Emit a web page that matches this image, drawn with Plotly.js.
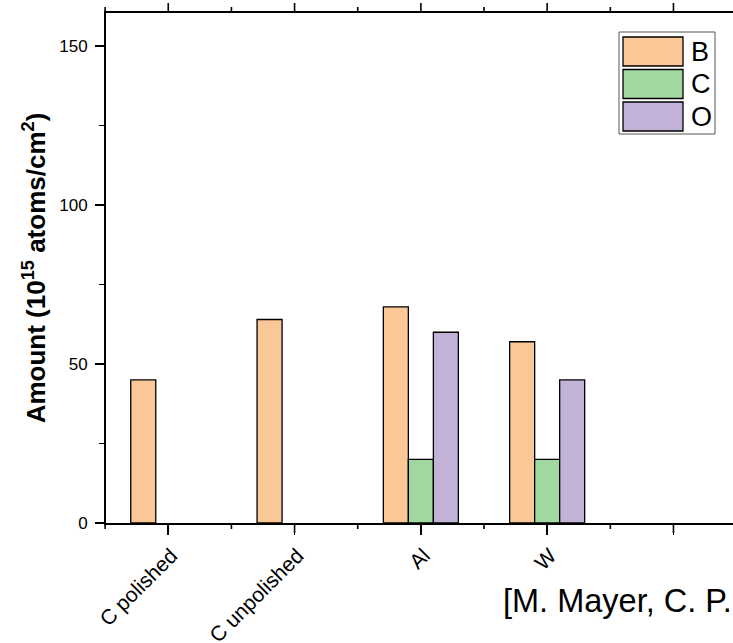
<!DOCTYPE html>
<html>
<head>
<meta charset="utf-8">
<script src="https://cdn.plot.ly/plotly-3.0.1.min.js"></script>
<style>
  html, body { margin: 0; padding: 0; overflow: hidden; background: #fff; }
  #chart { width: 733px; height: 643px; }
</style>
</head>
<body>
<div id="chart"></div>
<script>
// Surface samples and measured amounts (10^15 atoms/cm^2)
const categories = ['C polished', 'C unpolished', 'Al', 'W'];
const tickLabels = ['C polished', 'C unpolished', 'Al', 'W', ''];
const seriesNames = ['B', 'C', 'O'];
const boron  = [45, 64, 68, 57];
const carbon = [null, null, 20, 20];
const oxygen = [null, null, 60, 45];
const seriesColors = ['#FAC897', '#A0D8A0', '#C2B2D8'];
const citation = '[M. Mayer, C. P.';

const FONT = 'Arial, Liberation Sans, sans-serif';
const W = 733, H = 643;
const margin = { l: 106, r: 0, t: 13, b: 120 };
const plotW = W - margin.l - margin.r;
const plotH = H - margin.t - margin.b;
const catPx = 126.3;                     // pixels per category
const xMin = -0.493;
const xMax = xMin + plotW / catPx;

const xs = categories.map((_, i) => i);
const values = [boron, carbon, oxygen];

const traces = values.map((v, k) => ({
  type: 'bar',
  name: seriesNames[k],
  x: xs,
  y: v,
  marker: { color: seriesColors[k], line: { color: '#000', width: 1.3 } },
  showlegend: false,
  hoverinfo: 'skip'
}));
// empty trace so the top frame axis gets drawn
traces.push({ type: 'scatter', x: [], y: [], xaxis: 'x2', showlegend: false, hoverinfo: 'skip' });

// pixel -> paper coordinates for the legend box
const px = x => (x - margin.l) / plotW;
const py = y => (H - margin.b - y) / plotH;
// x-axis value -> paper coordinate
const xp = v => (v - xMin) / (xMax - xMin);

const shapes = [{
  type: 'rect', xref: 'paper', yref: 'paper',
  x0: px(619), x1: px(715), y0: py(134), y1: py(32),
  line: { color: '#555', width: 1 }, fillcolor: 'rgba(255,255,255,1)'
}];

// frame tick marks, bottom and top, major at each category and minor between
const tickMark = (v, len, top) => ({
  type: 'line', xref: 'paper', yref: 'paper',
  x0: xp(v), x1: xp(v),
  y0: top ? 1 + 1 / plotH : -1 / plotH,
  y1: top ? 1 + (1 + len) / plotH : -(1 + len) / plotH,
  line: { color: '#000', width: 1.6 }
});
tickLabels.forEach((_, i) => {
  shapes.push(tickMark(i, 9, false), tickMark(i, 9, true));
  shapes.push(tickMark(i - 0.5, 5, false), tickMark(i - 0.5, 5, true));
});

const annotations = [];
seriesNames.forEach((name, k) => {
  const top = 37 + k * 32.5;
  shapes.push({
    type: 'rect', xref: 'paper', yref: 'paper',
    x0: px(623), x1: px(683), y0: py(top + 29), y1: py(top),
    line: { color: '#000', width: 1.3 }, fillcolor: seriesColors[k]
  });
  annotations.push({
    xref: 'paper', yref: 'paper', x: px(689), y: py(top + 15),
    xanchor: 'left', yanchor: 'middle', showarrow: false,
    text: name, font: { family: FONT, size: 27, color: '#000' }
  });
});

const common = { range: [xMin, xMax], showgrid: false, zeroline: false, fixedrange: true };

const layout = {
  width: W, height: H,
  margin: margin,
  paper_bgcolor: '#fff', plot_bgcolor: '#fff',
  font: { family: FONT, color: '#000' },
  // reference line under the plot, placed in container coordinates
  title: {
    text: citation,
    font: { family: FONT, size: 32.5, color: '#000' },
    xref: 'container', yref: 'container',
    x: 503 / W, y: 1 - 601 / H,
    xanchor: 'left', yanchor: 'middle'
  },
  barmode: 'group',
  bargap: 0.406,
  bargroupgap: 0,
  showlegend: false,
  // bottom axis: category labels and major ticks
  xaxis: Object.assign({
    tickmode: 'array',
    tickvals: tickLabels.map((_, i) => i),
    ticktext: tickLabels,
    tickangle: -45,
    ticklabelshift: 3,
    tickfont: { family: FONT, size: 21, color: '#000' },
    ticks: 'outside', ticklen: 10, tickwidth: 1.6, tickcolor: '#000',
    showline: true, linecolor: '#000', linewidth: 2
  }, common),
  // top frame line
  xaxis2: Object.assign({
    overlaying: 'x', side: 'top', anchor: 'y',
    ticks: '', showticklabels: false,
    showline: true, linecolor: '#000', linewidth: 2
  }, common),
  yaxis: {
    range: [0, 160.4],
    tickmode: 'linear', tick0: 0, dtick: 50,
    tickfont: { family: FONT, size: 17, color: '#000' },
    ticks: 'outside', ticklen: 9, tickwidth: 1.6, tickcolor: '#000',
    minor: { tickmode: 'linear', tick0: 25, dtick: 50, ticks: 'outside', ticklen: 5, tickwidth: 1.6, tickcolor: '#000' },
    showline: true, linecolor: '#000', linewidth: 2,
    showgrid: false, zeroline: false, fixedrange: true,
    ticklabelstandoff: 4,
    title: {
      text: '<b>Amount (10<sup>15</sup> atoms/cm<sup>2</sup>)</b>',
      font: { family: FONT, size: 26, color: '#000' },
      standoff: 6
    }
  },
  shapes: shapes,
  annotations: annotations
};

Plotly.newPlot('chart', traces, layout, { displayModeBar: false, staticPlot: true });
</script>
</body>
</html>
